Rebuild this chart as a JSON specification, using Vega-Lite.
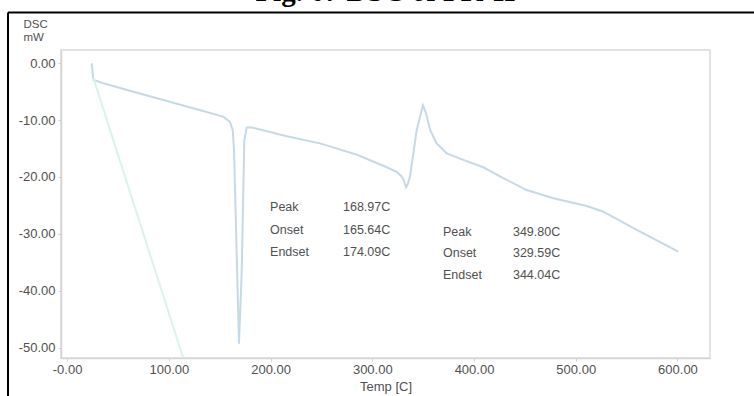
{
  "$schema": "https://vega.github.io/schema/vega-lite/v6.json",
  "width": 649,
  "height": 308,
  "autosize": {"type": "none"},
  "padding": {"left": 61, "top": 50, "right": 44, "bottom": 38},
  "background": "white",
  "title": {
    "text": "Fig. 07 DSC of FK-II",
    "font": "Liberation Serif",
    "fontSize": 29,
    "fontWeight": "bold",
    "color": "black",
    "anchor": "middle",
    "frame": "group",
    "offset": 4
  },
  "config": {
    "view": {"stroke": "#e3e3e3", "strokeWidth": 2},
    "axis": {
      "grid": false,
      "labelFont": "Liberation Sans",
      "labelFontSize": 13,
      "labelColor": "#505050",
      "titleFont": "Liberation Sans",
      "titleFontSize": 13,
      "titleFontWeight": "normal",
      "titleColor": "#505050",
      "domainColor": "#d4d4d4",
      "domainWidth": 1.5,
      "tickColor": "#cfcfcf",
      "tickSize": 3,
      "labelOverlap": false,
      "labelFlush": false
    }
  },
  "datasets": {
    "dsc": [
      {"series": "DSC", "temp": 24.2, "mw": -0.05},
      {"series": "DSC", "temp": 25.8, "mw": -2.97},
      {"series": "DSC", "temp": 35.6, "mw": -3.55},
      {"series": "DSC", "temp": 60, "mw": -4.76},
      {"series": "DSC", "temp": 100, "mw": -6.75},
      {"series": "DSC", "temp": 130, "mw": -8.24},
      {"series": "DSC", "temp": 153.5, "mw": -9.4},
      {"series": "DSC", "temp": 160.1, "mw": -10.3},
      {"series": "DSC", "temp": 162.8, "mw": -11.75},
      {"series": "DSC", "temp": 164.1, "mw": -15.3},
      {"series": "DSC", "temp": 166.5, "mw": -32},
      {"series": "DSC", "temp": 168.97, "mw": -49.3},
      {"series": "DSC", "temp": 171.6, "mw": -36.9},
      {"series": "DSC", "temp": 174.2, "mw": -13.5},
      {"series": "DSC", "temp": 176.6, "mw": -11.3},
      {"series": "DSC", "temp": 181.5, "mw": -11.3},
      {"series": "DSC", "temp": 215, "mw": -12.8},
      {"series": "DSC", "temp": 248.6, "mw": -14.1},
      {"series": "DSC", "temp": 285, "mw": -16.1},
      {"series": "DSC", "temp": 314.2, "mw": -18.3},
      {"series": "DSC", "temp": 324, "mw": -19.1},
      {"series": "DSC", "temp": 328.9, "mw": -19.9},
      {"series": "DSC", "temp": 331, "mw": -20.6},
      {"series": "DSC", "temp": 333.2, "mw": -21.8},
      {"series": "DSC", "temp": 335, "mw": -21.2},
      {"series": "DSC", "temp": 337.1, "mw": -19.9},
      {"series": "DSC", "temp": 343.7, "mw": -11.75},
      {"series": "DSC", "temp": 349.8, "mw": -7.4},
      {"series": "DSC", "temp": 352.8, "mw": -8.8},
      {"series": "DSC", "temp": 356.8, "mw": -11.75},
      {"series": "DSC", "temp": 363.3, "mw": -14.1},
      {"series": "DSC", "temp": 373.2, "mw": -15.85},
      {"series": "DSC", "temp": 389.5, "mw": -17.0},
      {"series": "DSC", "temp": 409.1, "mw": -18.3},
      {"series": "DSC", "temp": 428.8, "mw": -20.2},
      {"series": "DSC", "temp": 451.8, "mw": -22.3},
      {"series": "DSC", "temp": 478, "mw": -23.75},
      {"series": "DSC", "temp": 510.8, "mw": -25.1},
      {"series": "DSC", "temp": 527.1, "mw": -26.1},
      {"series": "DSC", "temp": 560, "mw": -29.3},
      {"series": "DSC", "temp": 600.8, "mw": -33.1},
      {"series": "Program", "temp": 25.8, "mw": -2.6},
      {"series": "Program", "temp": 114, "mw": -51.7}
    ],
    "notes": [
      {"temp": 199.5, "mw": -25.2, "label": "Peak"},
      {"temp": 271.2, "mw": -25.2, "label": "168.97C"},
      {"temp": 199.5, "mw": -29.3, "label": "Onset"},
      {"temp": 271.2, "mw": -29.3, "label": "165.64C"},
      {"temp": 199.5, "mw": -33.1, "label": "Endset"},
      {"temp": 271.2, "mw": -33.1, "label": "174.09C"},
      {"temp": 369.5, "mw": -29.6, "label": "Peak"},
      {"temp": 438.3, "mw": -29.6, "label": "349.80C"},
      {"temp": 369.5, "mw": -33.4, "label": "Onset"},
      {"temp": 438.3, "mw": -33.4, "label": "329.59C"},
      {"temp": 369.5, "mw": -37.2, "label": "Endset"},
      {"temp": 438.3, "mw": -37.2, "label": "344.04C"}
    ]
  },
  "layer": [
    {
      "data": {"name": "dsc"},
      "mark": {"type": "line", "strokeWidth": 2, "clip": true},
      "encoding": {
        "x": {
          "field": "temp",
          "type": "quantitative",
          "scale": {"domain": [-6, 632], "nice": false, "zero": false},
          "axis": {
            "values": [0, 100, 200, 300, 400, 500, 600],
            "labelExpr": "datum.value == 0 ? '-0.00' : format(datum.value, '.2f')",
            "title": "Temp [C]",
            "labelPadding": 2,
            "titlePadding": 4
          }
        },
        "y": {
          "field": "mw",
          "type": "quantitative",
          "scale": {"domain": [-51.8, 2.3], "nice": false, "zero": false},
          "axis": {
            "values": [0, -10, -20, -30, -40, -50],
            "labelExpr": "replace(format(datum.value, '.2f'), '−', '-')",
            "labelPadding": 3,
            "title": ["DSC", "mW"],
            "titleFontSize": 11.5,
            "titleAngle": 0,
            "titleAlign": "left",
            "titleBaseline": "top",
            "titleX": -38,
            "titleY": -32,
            "titleLineHeight": 13
          }
        },
        "color": {
          "field": "series",
          "type": "nominal",
          "scale": {"domain": ["DSC", "Program"], "range": ["#c6d9e4", "#dcf2ee"]},
          "legend": null
        }
      }
    },
    {
      "data": {"name": "notes"},
      "mark": {
        "type": "text",
        "align": "left",
        "baseline": "middle",
        "font": "Liberation Sans",
        "fontSize": 12.5,
        "color": "#505050"
      },
      "encoding": {
        "x": {"field": "temp", "type": "quantitative", "title": "Temp [C]"},
        "y": {"field": "mw", "type": "quantitative", "title": ["DSC", "mW"]},
        "text": {"field": "label", "type": "nominal"}
      }
    },
    {
      "data": {"values": [{}]},
      "mark": {"type": "rule", "color": "black", "strokeWidth": 2},
      "encoding": {
        "x": {"datum": -58.1, "type": "quantitative", "title": "Temp [C]"},
        "y": {"datum": 8.89, "type": "quantitative", "title": ["DSC", "mW"]},
        "y2": {"datum": -60}
      }
    },
    {
      "data": {"values": [{}]},
      "mark": {"type": "rule", "color": "black", "strokeWidth": 2},
      "encoding": {
        "x": {"datum": -58.1, "type": "quantitative", "title": "Temp [C]"},
        "x2": {"datum": 700},
        "y": {"datum": 8.89, "type": "quantitative", "title": ["DSC", "mW"]}
      }
    }
  ]
}
